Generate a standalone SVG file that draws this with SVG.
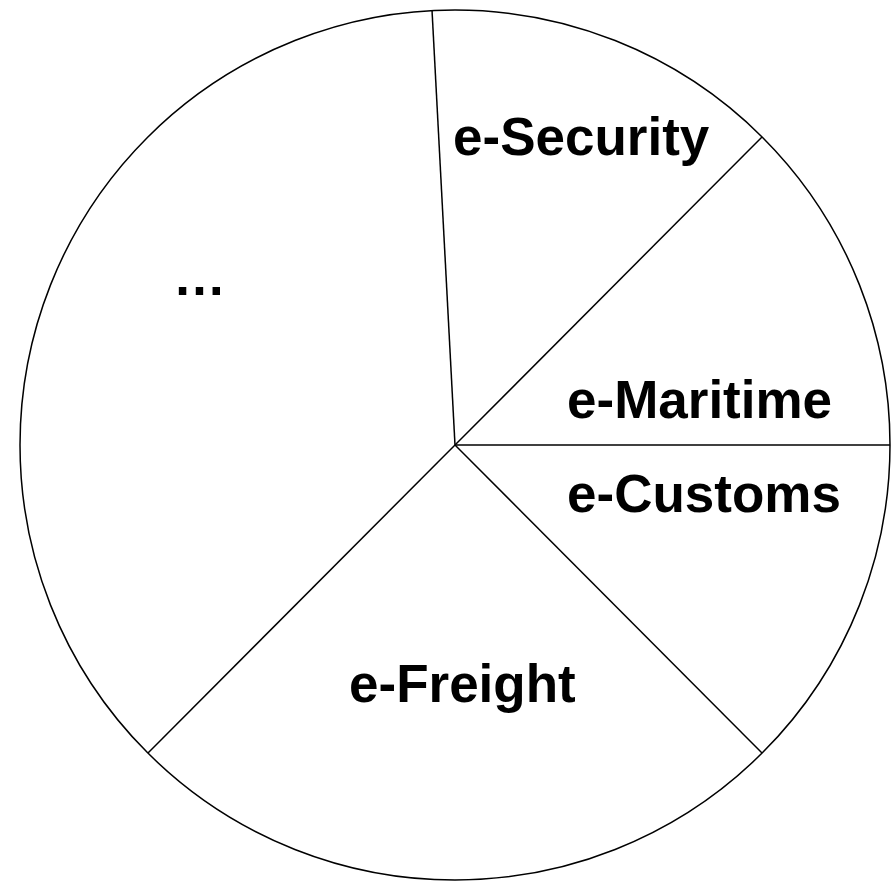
<svg xmlns="http://www.w3.org/2000/svg" width="892" height="881" viewBox="0 0 892 881">
<style>
.ln{stroke:#000;stroke-width:1.5;fill:none}
.lb{font-family:"Liberation Sans",Arial,sans-serif;font-weight:bold;font-size:53px;fill:#000}
</style>
<rect width="892" height="881" fill="#fff"/>
<g id="connectors">
<circle class="ln" cx="455" cy="445" r="435"/>
<line class="ln" x1="455" y1="445" x2="432" y2="10"/>
<line class="ln" x1="455" y1="445" x2="762" y2="137"/>
<line class="ln" x1="455" y1="445" x2="890" y2="445"/>
<line class="ln" x1="455" y1="445" x2="762" y2="753"/>
<line class="ln" x1="455" y1="445" x2="148" y2="753"/>
</g>
<g id="security"><text class="lb" x="453" y="155">e-Security</text></g>
<g id="maritime"><text class="lb" x="567" y="418">e-Maritime</text></g>
<g id="customs"><text class="lb" x="567" y="512">e-Customs</text></g>
<g id="freight"><text class="lb" x="349" y="702">e-Freight</text></g>
<g id="other"><text class="lb" x="173" y="295">…</text></g>
</svg>
